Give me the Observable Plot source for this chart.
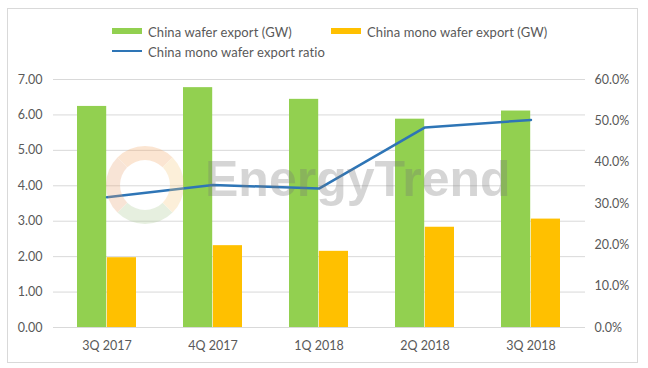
<!DOCTYPE html>
<html>
<head>
<meta charset="utf-8">
<script src="https://cdn.jsdelivr.net/npm/d3@7"></script>
<script src="https://cdn.jsdelivr.net/npm/@observablehq/plot@0.6"></script>
<style>
  html, body { margin: 0; padding: 0; background: #fff; }
  body { width: 648px; height: 368px; position: relative; overflow: hidden; font-family: Lato, "Open Sans", sans-serif; }
  #frame { position: absolute; left: 7px; top: 8px; width: 631px; height: 355px; border: 1px solid #d9d9d9; box-sizing: border-box; pointer-events: none; }
  #legend { position: relative; height: 60px; font-size: 13px; letter-spacing: 0.1px; color: #595959; }
  .sw { position: absolute; }
  .lt { position: absolute; line-height: 16px; white-space: nowrap; }
  #wm { position: absolute; left: 205px; top: 150px; font: bold 50px "Liberation Sans", Arial, sans-serif; color: #777; opacity: 0.3; pointer-events: none; }
  #logo { position: absolute; left: 106px; top: 146px; width: 78px; height: 78px; border-radius: 50%; box-sizing: border-box; border: 14px solid; border-color: #f4a460 #f6c77a #a8c890 #e8a070; opacity: 0.28; pointer-events: none; }
</style>
</head>
<body>
<div id="frame"></div>
<div id="legend"></div>
<div id="chart"></div>
<div id="logo"></div>
<div id="wm">EnergyTrend</div>
<script>
const quarters = ["3Q 2017", "4Q 2017", "1Q 2018", "2Q 2018", "3Q 2018"];
const waferExport = [6.24, 6.77, 6.44, 5.88, 6.11];
const monoExport = [1.97, 2.31, 2.15, 2.83, 3.06];
const monoRatio = [31.5, 34.5, 33.6, 48.4, 50.2];
const leftTicks = [0, 1, 2, 3, 4, 5, 6, 7];
const rightTickLabels = ["0.0%", "10.0%", "20.0%", "30.0%", "40.0%", "50.0%", "60.0%"];
const seriesNames = ["China wafer export (GW)", "China mono wafer export (GW)", "China mono wafer export ratio"];
const colors = ["#92D050", "#FFC000", "#2E75B6"];

const yMax = 7, ratioMax = 60;
const data = quarters.map((q, i) => ({q, wafer: waferExport[i], mono: monoExport[i], ratio: monoRatio[i]}));

// legend
const legend = document.getElementById("legend");
function add(cls, style, text) {
  const el = document.createElement("div");
  el.className = cls;
  Object.assign(el.style, style);
  if (text) el.textContent = text;
  legend.appendChild(el);
}
add("sw", {left: "112px", top: "28px", width: "30px", height: "6px", background: colors[0]});
add("lt", {left: "148px", top: "24px"}, seriesNames[0]);
add("sw", {left: "331px", top: "28px", width: "30px", height: "6px", background: colors[1]});
add("lt", {left: "367px", top: "24px"}, seriesNames[1]);
add("sw", {left: "112px", top: "50px", width: "30px", height: "2px", background: colors[2]});
add("lt", {left: "148px", top: "44px"}, seriesNames[2]);

const half = 29.8;
const chart = Plot.plot({
  width: 648,
  height: 308,
  marginTop: 19,
  marginBottom: 41,
  marginLeft: 53,
  marginRight: 63,
  style: {fontFamily: "Lato, 'Open Sans', sans-serif", fontSize: "12.5px", color: "#595959", background: "transparent"},
  x: {domain: quarters, paddingInner: 0.44, paddingOuter: 0.22, label: null},
  y: {domain: [0, yMax], label: null},
  marks: [
    Plot.gridY(leftTicks, {stroke: "#d9d9d9", strokeOpacity: 1, strokeWidth: 1}),
    Plot.barY(data, {x: "q", y: "wafer", fill: colors[0], insetRight: half, insetLeft: 0}),
    Plot.barY(data, {x: "q", y: "mono", fill: colors[1], insetLeft: half, insetRight: 0}),
    Plot.line(data, {x: "q", y: d => d.ratio / ratioMax * yMax, stroke: colors[2], strokeWidth: 2.5, curve: "linear"}),
    Plot.axisY(leftTicks, {anchor: "left", tickSize: 0, tickPadding: 11, tickFormat: d => d.toFixed(2), fill: "#595959", label: null}),
    Plot.axisY(d3.range(rightTickLabels.length).map(i => i * 10 / ratioMax * yMax), {anchor: "right", tickSize: 0, tickPadding: 9, tickFormat: (d, i) => rightTickLabels[i], fill: "#595959", label: null}),
    Plot.axisX({tickSize: 0, tickPadding: 14, fill: "#595959", label: null})
  ]
});
document.getElementById("chart").appendChild(chart);
</script>
</body>
</html>
